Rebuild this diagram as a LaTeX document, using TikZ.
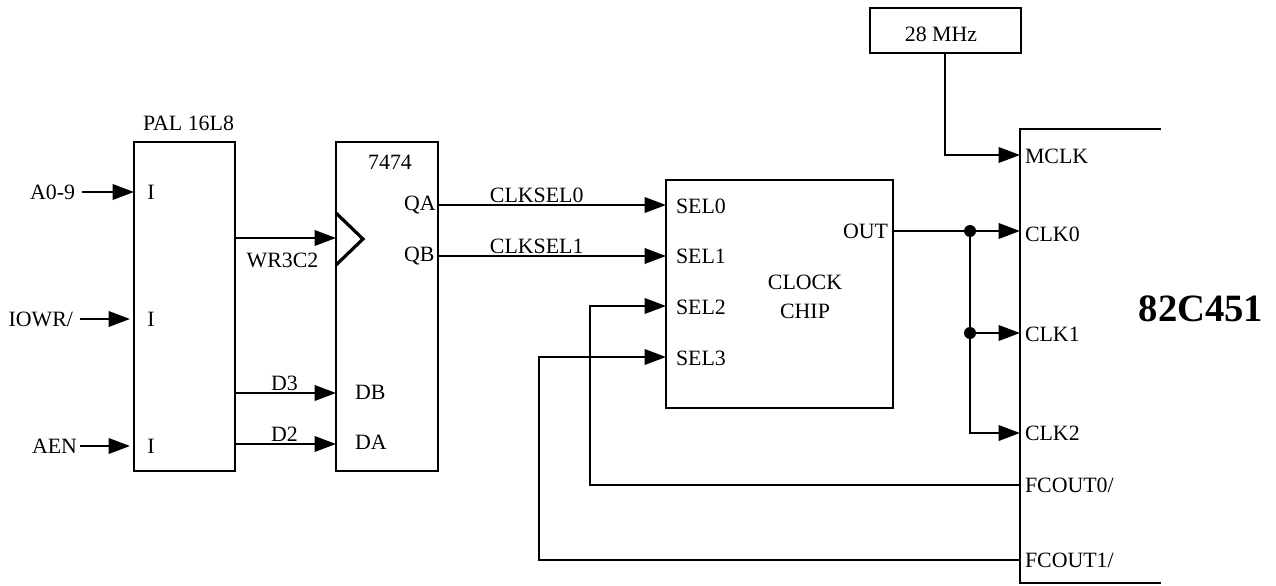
\documentclass[tikz,border=0pt]{standalone}
\usepackage{fontspec}
\setmainfont{Liberation Serif}
\usetikzlibrary{positioning, arrows.meta, calc}
\tikzset{
  chip/.style  = {rectangle, draw, line width=1.9pt, inner sep=0pt, outer sep=0pt},
  pin/.style   = {inner sep=0pt, outer sep=0pt, font=\fontsize{16.4}{19}\selectfont},
  arr/.style   = {-{Triangle[length=16pt, width=11.5pt]}, line width=1.9pt},
  wire/.style  = {line width=1.9pt},
  joint/.style = {circle, fill, inner sep=0pt, minimum size=9pt}
}

\begin{document}
\begin{tikzpicture}[x=0.75pt, y=-0.75pt]
        \useasboundingbox (0,0) rectangle (1276,585);
        % chips
        \node[chip, minimum width=75.75pt, minimum height=246.75pt] (pal)   at (184.5,306.5) {};
        \node[chip, minimum width=76.5pt,  minimum height=246.75pt] (ff)    at (387,306.5)   {};
        \node[chip, minimum width=170.25pt,minimum height=171pt]    (clock) at (779.5,294)   {};
        \node[chip, minimum width=113.25pt,minimum height=33.75pt]  (osc)   at (945.5,30.5)  {};
        \node[pin] (osclabel) at (941,34) {28 MHz};
        \node[pin] (pallabel) at (188.5,123) {PAL 16L8};
        \node[pin] (fflabel)  at (390,162) {7474};
        \node[pin, align=center] (clocklabel) at (805,297) {CLOCK\\[3pt]CHIP};
        \node[font=\fontsize{29}{33}\selectfont\bfseries, inner sep=0pt] (vga) at (1201,309) {82C451};
        % open chip outline
        \coordinate (vgatop) at (1161,129);
        \coordinate (vgabot) at (1161,583);
        \draw[wire] (vgatop) -| (1020,583) -- (vgabot);
        % inputs
        \node[pin, anchor=east] (a) at (75,192)   {A0-9};
        \node[pin, anchor=east] (b) at (73,319)   {IOWR/};
        \node[pin, anchor=east] (c) at (77,446)   {AEN};
        \node[pin] (ia) at (151,192) {I};
        \node[pin] (ib) at (151,319) {I};
        \node[pin] (ic) at (151,446) {I};
        \draw[arr] (82,192)  -- (pal.west |- a);
        \draw[arr] (80,319)  -- (130,319);
        \draw[arr] (80,446)  -- (130,446);
        % 7474 pins
        \node[pin, anchor=west] (qa) at (404,205) {QA};
        \node[pin, anchor=west] (qb) at (404,256) {QB};
        \node[pin, anchor=west] (db) at (355,392) {DB};
        \node[pin, anchor=west] (da) at (355,442) {DA};
        \draw[wire, line width=2.4pt] (336,213) -- (363,239) -- (336,265);
        \draw[arr] (pal.east |- 0,238) -- node[pin, pos=0.47, yshift=-17pt]{WR3C2} (ff.west |- 0,238);
        \draw[arr] (pal.east |- 0,393) -- node[pin, above, pos=0.49, yshift=2pt]{D3} (ff.west |- 0,393);
        \draw[arr] (pal.east |- 0,444) -- node[pin, above, pos=0.49, yshift=2pt]{D2} (ff.west |- 0,444);
        % clock chip pins
        \node[pin, anchor=west] (s0) at (676,206) {SEL0};
        \node[pin, anchor=west] (s1) at (676,256) {SEL1};
        \node[pin, anchor=west] (s2) at (676,307) {SEL2};
        \node[pin, anchor=west] (s3) at (676,358) {SEL3};
        \node[pin, anchor=east] (out) at (888,231) {OUT};
        \draw[arr] (ff.east |- 0,205) -- node[pin, above, pos=0.433, yshift=2pt]{CLKSEL0} (clock.west |- 0,205);
        \draw[arr] (ff.east |- 0,256) -- node[pin, above, pos=0.433, yshift=2pt]{CLKSEL1} (clock.west |- 0,256);
        % 82C451 pins
        \node[pin, anchor=west] (mclk) at (1025,156) {MCLK};
        \node[pin, anchor=west] (clk0) at (1025,234) {CLK0};
        \node[pin, anchor=west] (clk1) at (1025,334) {CLK1};
        \node[pin, anchor=west] (clk2) at (1025,433) {CLK2};
        \node[pin, anchor=west] (fc0)  at (1025,485) {FCOUT0/};
        \node[pin, anchor=west] (fc1)  at (1025,560) {FCOUT1/};
        \node[joint] (j0) at (970,231) {};
        \node[joint] (j1) at (970,333) {};
        \draw[arr] (osc.south -| 945,0) |- (1020,155);
        \draw[arr] (clock.east |- j0) -- (1020,231);
        \draw[wire] (j0) -- (j1);
        \draw[arr] (j1) -- (1020,333);
        \draw[arr] (j1) |- (1020,433);
        \draw[arr] (1020,485) -| (590,306) -- (clock.west |- 0,306);
        \draw[arr] (1020,560) -| (539,357) -- (clock.west |- 0,357);
      \end{tikzpicture}
\end{document}
